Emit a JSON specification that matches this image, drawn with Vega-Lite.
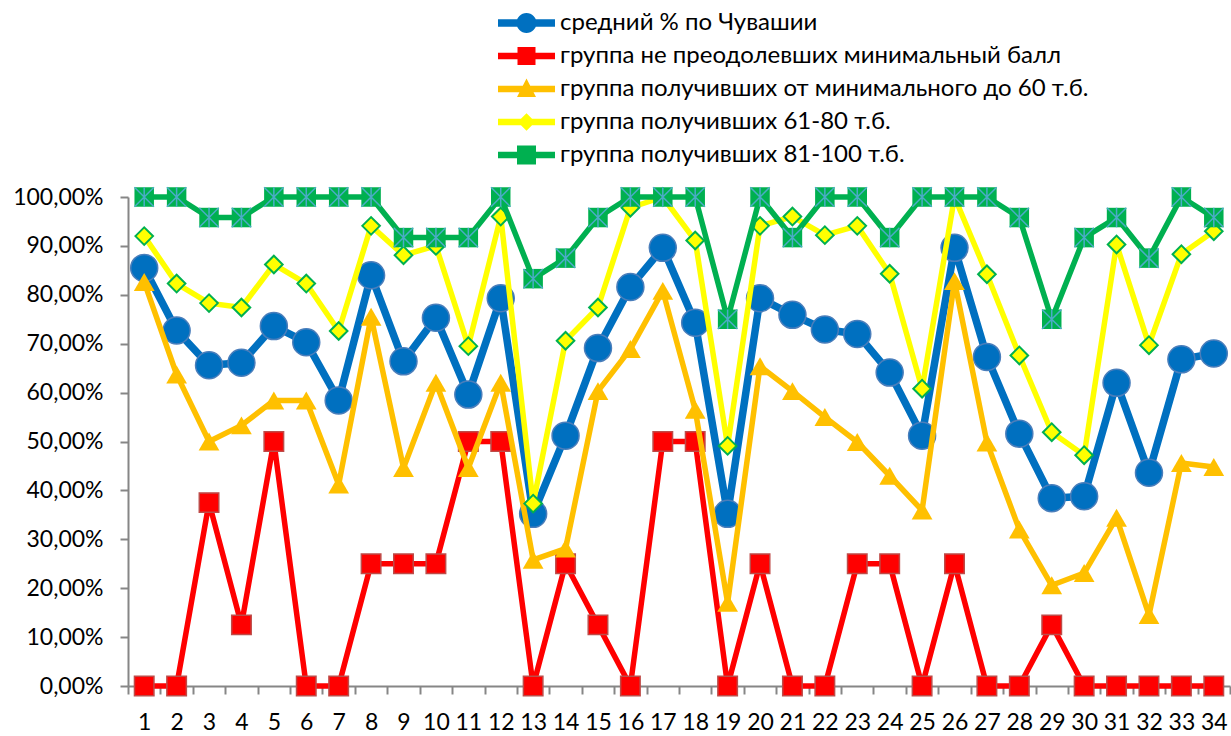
{
  "$schema": "https://vega.github.io/schema/vega-lite/v6.json",
  "width": 1102,
  "height": 489,
  "autosize": {"type": "none"},
  "padding": {"left": 128, "top": 197, "right": 1, "bottom": 50},
  "background": "white",
  "data": {
    "values": [
      {"cat": 1, "avg": 0.855, "low": 0, "mid": 0.826, "b61": 0.92, "b81": 1},
      {"cat": 2, "avg": 0.727, "low": 0, "mid": 0.637, "b61": 0.823, "b81": 1},
      {"cat": 3, "avg": 0.656, "low": 0.375, "mid": 0.5, "b61": 0.783, "b81": 0.958},
      {"cat": 4, "avg": 0.661, "low": 0.125, "mid": 0.533, "b61": 0.774, "b81": 0.958},
      {"cat": 5, "avg": 0.736, "low": 0.5, "mid": 0.584, "b61": 0.862, "b81": 1},
      {"cat": 6, "avg": 0.703, "low": 0, "mid": 0.584, "b61": 0.823, "b81": 1},
      {"cat": 7, "avg": 0.584, "low": 0, "mid": 0.412, "b61": 0.726, "b81": 1},
      {"cat": 8, "avg": 0.84, "low": 0.25, "mid": 0.755, "b61": 0.941, "b81": 1},
      {"cat": 9, "avg": 0.664, "low": 0.25, "mid": 0.446, "b61": 0.881, "b81": 0.917},
      {"cat": 10, "avg": 0.753, "low": 0.25, "mid": 0.62, "b61": 0.9, "b81": 0.917},
      {"cat": 11, "avg": 0.596, "low": 0.5, "mid": 0.446, "b61": 0.695, "b81": 0.917},
      {"cat": 12, "avg": 0.793, "low": 0.5, "mid": 0.62, "b61": 0.96, "b81": 1},
      {"cat": 13, "avg": 0.352, "low": 0, "mid": 0.258, "b61": 0.373, "b81": 0.833},
      {"cat": 14, "avg": 0.512, "low": 0.25, "mid": 0.281, "b61": 0.706, "b81": 0.875},
      {"cat": 15, "avg": 0.691, "low": 0.125, "mid": 0.603, "b61": 0.774, "b81": 0.958},
      {"cat": 16, "avg": 0.816, "low": 0, "mid": 0.689, "b61": 0.978, "b81": 1},
      {"cat": 17, "avg": 0.896, "low": 0.5, "mid": 0.808, "b61": 1, "b81": 1},
      {"cat": 18, "avg": 0.743, "low": 0.5, "mid": 0.565, "b61": 0.911, "b81": 1},
      {"cat": 19, "avg": 0.352, "low": 0, "mid": 0.17, "b61": 0.491, "b81": 0.75},
      {"cat": 20, "avg": 0.793, "low": 0.25, "mid": 0.654, "b61": 0.941, "b81": 1},
      {"cat": 21, "avg": 0.759, "low": 0, "mid": 0.603, "b61": 0.96, "b81": 0.917},
      {"cat": 22, "avg": 0.729, "low": 0, "mid": 0.55, "b61": 0.922, "b81": 1},
      {"cat": 23, "avg": 0.72, "low": 0.25, "mid": 0.499, "b61": 0.941, "b81": 1},
      {"cat": 24, "avg": 0.641, "low": 0.25, "mid": 0.43, "b61": 0.843, "b81": 0.917},
      {"cat": 25, "avg": 0.512, "low": 0, "mid": 0.359, "b61": 0.608, "b81": 1},
      {"cat": 26, "avg": 0.896, "low": 0.25, "mid": 0.828, "b61": 1, "b81": 1},
      {"cat": 27, "avg": 0.673, "low": 0, "mid": 0.498, "b61": 0.842, "b81": 1},
      {"cat": 28, "avg": 0.516, "low": 0, "mid": 0.32, "b61": 0.676, "b81": 0.958},
      {"cat": 29, "avg": 0.384, "low": 0.125, "mid": 0.206, "b61": 0.519, "b81": 0.75},
      {"cat": 30, "avg": 0.388, "low": 0, "mid": 0.231, "b61": 0.472, "b81": 0.917},
      {"cat": 31, "avg": 0.62, "low": 0, "mid": 0.344, "b61": 0.903, "b81": 0.958},
      {"cat": 32, "avg": 0.436, "low": 0, "mid": 0.145, "b61": 0.697, "b81": 0.875},
      {"cat": 33, "avg": 0.668, "low": 0, "mid": 0.456, "b61": 0.883, "b81": 1},
      {"cat": 34, "avg": 0.68, "low": 0, "mid": 0.448, "b61": 0.93, "b81": 0.958}
    ]
  },
  "encoding": {
    "x": {
      "field": "cat",
      "type": "ordinal",
      "title": null,
      "sort": null,
      "scale": {"type": "band", "paddingInner": 0, "paddingOuter": 0},
      "axis": {
        "title": null,
        "labelAngle": 0,
        "tickBand": "extent",
        "grid": false,
        "domainColor": "#868686",
        "domainWidth": 2,
        "tickColor": "#868686",
        "tickWidth": 2,
        "tickSize": 8,
        "labelFont": "Lato",
        "labelFontSize": 23,
        "labelColor": "#000000",
        "labelPadding": 17
      }
    }
  },
  "layer": [
    {
      "mark": {"type": "line", "color": "#0070C0", "strokeWidth": 7.5, "strokeJoin": "round"},
      "encoding": {
        "y": {
          "field": "avg",
          "type": "quantitative",
          "title": null,
          "scale": {"domain": [0, 1], "nice": false},
          "axis": {
            "title": null,
            "values": [0, 0.1, 0.2, 0.3, 0.4, 0.5, 0.6, 0.7, 0.8, 0.9, 1],
            "labelExpr": "replace(format(datum.value, '.2%'), '.', ',')",
            "grid": false,
            "domainColor": "#868686",
            "domainWidth": 2,
            "tickColor": "#868686",
            "tickWidth": 2,
            "tickSize": 8,
            "labelFont": "Lato",
            "labelFontSize": 23,
            "labelColor": "#000000",
            "labelPadding": 17
          }
        }
      }
    },
    {
      "mark": {"type": "point", "shape": "circle", "filled": true, "opacity": 1, "size": 729, "fill": "#0070C0", "stroke": "#4A7EBB", "strokeWidth": 1.5},
      "encoding": {"y": {"field": "avg", "type": "quantitative", "title": null, "scale": {"domain": [0, 1], "nice": false}}}
    },
    {
      "mark": {"type": "line", "color": "#FF0000", "strokeWidth": 5.5, "strokeJoin": "round"},
      "encoding": {"y": {"field": "low", "type": "quantitative", "title": null, "scale": {"domain": [0, 1], "nice": false}}}
    },
    {
      "mark": {"type": "point", "shape": "square", "filled": true, "opacity": 1, "size": 380, "fill": "#FF0000", "stroke": "#BE4B48", "strokeWidth": 1.5},
      "encoding": {"y": {"field": "low", "type": "quantitative", "title": null, "scale": {"domain": [0, 1], "nice": false}}}
    },
    {
      "mark": {"type": "line", "color": "#FFC000", "strokeWidth": 5.5, "strokeJoin": "round"},
      "encoding": {"y": {"field": "mid", "type": "quantitative", "title": null, "scale": {"domain": [0, 1], "nice": false}}}
    },
    {
      "mark": {"type": "point", "shape": "triangle-up", "filled": true, "opacity": 1, "size": 430, "fill": "#FFC000", "strokeWidth": 0},
      "encoding": {"y": {"field": "mid", "type": "quantitative", "title": null, "scale": {"domain": [0, 1], "nice": false}}}
    },
    {
      "mark": {"type": "line", "color": "#FFFF00", "strokeWidth": 5.5, "strokeJoin": "round"},
      "encoding": {"y": {"field": "b61", "type": "quantitative", "title": null, "scale": {"domain": [0, 1], "nice": false}}}
    },
    {
      "mark": {"type": "point", "shape": "diamond", "filled": true, "opacity": 1, "size": 310, "fill": "#FFFF00", "stroke": "#00B050", "strokeWidth": 2},
      "encoding": {"y": {"field": "b61", "type": "quantitative", "title": null, "scale": {"domain": [0, 1], "nice": false}}}
    },
    {
      "mark": {"type": "line", "color": "#00B050", "strokeWidth": 5.5, "strokeJoin": "round"},
      "encoding": {"y": {"field": "b81", "type": "quantitative", "title": null, "scale": {"domain": [0, 1], "nice": false}}}
    },
    {
      "mark": {"type": "point", "shape": "square", "filled": true, "opacity": 1, "size": 380, "fill": "#00B050", "strokeWidth": 0},
      "encoding": {"y": {"field": "b81", "type": "quantitative", "title": null, "scale": {"domain": [0, 1], "nice": false}}}
    },
    {
      "mark": {"type": "point", "shape": "M-1,-1L1,1M1,-1L-1,1M0,-1L0,1", "filled": false, "opacity": 1, "size": 380, "stroke": "#4BACC6", "strokeWidth": 1.5},
      "encoding": {"y": {"field": "b81", "type": "quantitative", "title": null, "scale": {"domain": [0, 1], "nice": false}}}
    },
    {
      "data": {"values": []},
      "mark": {"type": "point", "filled": true, "opacity": 1},
      "encoding": {
        "color": {
          "field": "series",
          "type": "nominal",
          "scale": {
            "domain": ["средний % по Чувашии", "группа не преодолевших минимальный балл", "группа получивших от минимального до 60 т.б.", "группа получивших 61-80 т.б.", "группа получивших 81-100 т.б."],
            "range": ["#0070C0", "#FF0000", "#FFC000", "#FFFF00", "#00B050"]
          },
          "legend": {
            "title": null,
            "orient": "none",
            "legendX": 368,
            "legendY": -186,
            "direction": "vertical",
            "symbolSize": 400,
            "symbolStrokeWidth": 0,
            "labelFont": "Lato",
            "labelFontSize": 24,
            "labelColor": "#000000",
            "labelOffset": 40,
            "labelLimit": 800,
            "rowPadding": 9,
            "padding": 0
          }
        },
        "shape": {
          "field": "series",
          "type": "nominal",
          "scale": {
            "domain": ["средний % по Чувашии", "группа не преодолевших минимальный балл", "группа получивших от минимального до 60 т.б.", "группа получивших 61-80 т.б.", "группа получивших 81-100 т.б."],
            "range": [
              "M-1,-0.38H4.7V0.38H-1Z M2.85,0A1,1 0 1,1 0.85,0A1,1 0 1,1 2.85,0Z",
              "M-1,-0.32H4.7V0.32H-1Z M0.95,-0.9H2.75V0.9H0.95Z",
              "M-1,-0.32H4.7V0.32H-1Z M1.85,-1.05L2.8,0.8L0.9,0.8Z",
              "M-1,-0.32H4.7V0.32H-1Z M1.85,-0.88L2.73,0L1.85,0.88L0.97,0Z",
              "M-1,-0.32H4.7V0.32H-1Z M0.9,-0.95H2.8V0.95H0.9Z"
            ]
          },
          "legend": {
            "title": null,
            "orient": "none",
            "legendX": 368,
            "legendY": -186,
            "direction": "vertical",
            "symbolSize": 400,
            "symbolStrokeWidth": 0,
            "labelFont": "Lato",
            "labelFontSize": 24,
            "labelColor": "#000000",
            "labelOffset": 40,
            "labelLimit": 800,
            "rowPadding": 9,
            "padding": 0
          }
        }
      }
    }
  ],
  "config": {
    "view": {"stroke": null},
    "axis": {"labelOverlap": false}
  }
}
